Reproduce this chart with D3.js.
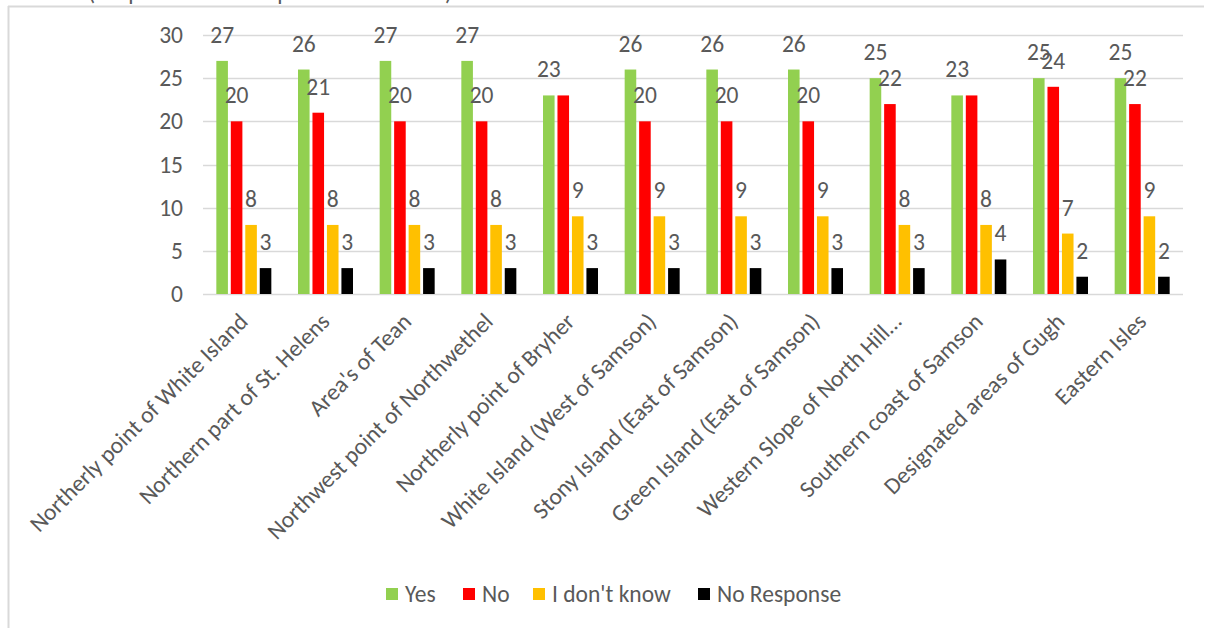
<!DOCTYPE html>
<html>
<head>
<meta charset="utf-8">
<script src="https://cdn.jsdelivr.net/npm/d3@7"></script>
<style>
  html, body { margin: 0; padding: 0; background: #fff; }
  svg { display: block; }
  text { font-family: Carlito, Lato, "Open Sans", sans-serif; fill: #595959; }
</style>
</head>
<body>
<svg id="chart" width="1209" height="628"></svg>
<script>
const categories = [
  "Northerly point of White Island",
  "Northern part of St. Helens",
  "Area's of Tean",
  "Northwest point of Northwethel",
  "Northerly point of Bryher",
  "White Island (West of Samson)",
  "Stony Island (East of Samson)",
  "Green Island (East of Samson)",
  "Western Slope of North Hill\u2026",
  "Southern coast of Samson",
  "Designated areas of Gugh",
  "Eastern Isles"
];
const seriesNames = ["Yes", "No", "I don't know", "No Response"];
const yesValues = [27, 26, 27, 27, 23, 26, 26, 26, 25, 23, 25, 25];
const noValues = [20, 21, 20, 20, 23, 20, 20, 20, 22, 23, 24, 22];
const dontKnowValues = [8, 8, 8, 8, 9, 9, 9, 9, 8, 8, 7, 9];
const noResponseValues = [3, 3, 3, 3, 3, 3, 3, 3, 3, 4, 2, 2];
const yTicks = [0, 5, 10, 15, 20, 25, 30];
const subtitle = "(Respondents were permitted to vote)";

const seriesValues = [yesValues, noValues, dontKnowValues, noResponseValues];
const colors = ["#92d050", "#ff0000", "#ffc000", "#000000"];

const svg = d3.select("#chart");
const W = 1209, H = 628;
const plot = { left: 203, right: 1183, top: 35, bottom: 294 };
const FS = 23.5;
const FF = "Carlito, Lato, 'Open Sans', sans-serif";

// subtitle cut off by the top of the frame: only descenders show
svg.append("clipPath").attr("id", "topclip")
  .append("rect").attr("x", 0).attr("y", 0).attr("width", W).attr("height", 6);
svg.append("text")
  .attr("clip-path", "url(#topclip)")
  .attr("x", 88).attr("y", 0)
  .style("font-size", FS + "px")
  .text(subtitle);

// frame
svg.append("line").attr("x1", 8).attr("x2", 1204).attr("y1", 6.5).attr("y2", 6.5)
  .attr("stroke", "#d9d9d9").attr("stroke-width", 2);
svg.append("line").attr("x1", 8.5).attr("x2", 8.5).attr("y1", 6).attr("y2", H)
  .attr("stroke", "#d9d9d9").attr("stroke-width", 2);

const x = d3.scaleBand().domain(categories).range([plot.left, plot.right]).padding(0);
const groupW = 55;
const xs = d3.scaleBand().domain(seriesNames).range([0, groupW]).paddingInner(0.2).paddingOuter(0);
const y = d3.scaleLinear().domain([0, 30]).range([plot.bottom, plot.top]);

// gridlines
svg.append("g").selectAll("line").data(yTicks).join("line")
  .attr("x1", plot.left).attr("x2", plot.right)
  .attr("y1", d => Math.round(y(d)) + 0.5).attr("y2", d => Math.round(y(d)) + 0.5)
  .attr("stroke", "#d9d9d9").attr("stroke-width", 1.3);

// y axis labels
const yAxis = d3.axisLeft(y).tickValues(yTicks).tickSize(0).tickPadding(0);
const yg = svg.append("g").attr("transform", `translate(${plot.left - 20},0)`).call(yAxis);
yg.select(".domain").remove();
yg.selectAll("text").style("font-size", FS + "px").attr("fill", "#595959")
  .style("font-family", FF);

// bars
const groups = svg.append("g").selectAll("g").data(categories).join("g")
  .attr("transform", d => `translate(${x(d) + (x.bandwidth() - groupW) / 2},0)`);

groups.each(function (cat, ci) {
  const g = d3.select(this);
  seriesNames.forEach((s, si) => {
    const v = seriesValues[si][ci];
    g.append("rect")
      .attr("x", xs(s)).attr("width", xs.bandwidth())
      .attr("y", y(v)).attr("height", y(0) - y(v))
      .attr("fill", colors[si]);
  });
});
// data labels (a label that would collide with an equal neighbour's label is hidden, as in the source)
groups.each(function (cat, ci) {
  const g = d3.select(this);
  seriesNames.forEach((s, si) => {
    const v = seriesValues[si][ci];
    if (si > 0 && seriesValues[si - 1][ci] === v) return;
    g.append("text")
      .attr("x", xs(s) + xs.bandwidth() / 2)
      .attr("y", y(v) - 18)
      .attr("text-anchor", "middle")
      .style("font-size", FS + "px")
      .text(v);
  });
});

// x axis labels
const xAxis = d3.axisBottom(x).tickSize(0).tickPadding(0);
const xg = svg.append("g").attr("transform", `translate(0,${plot.bottom})`).call(xAxis);
xg.select(".domain").remove();
xg.selectAll(".tick text")
  .attr("y", 0).attr("dy", 0)
  .attr("text-anchor", "end")
  .attr("transform", "translate(5.5,29) rotate(-45)")
  .attr("fill", "#595959")
  .style("font-size", FS + "px")
  .style("font-family", FF);

// legend
const legendX = [386, 463, 533, 698];
const legend = svg.append("g").selectAll("g").data(seriesNames).join("g")
  .attr("transform", (d, i) => `translate(${legendX[i]},594)`);
legend.append("rect").attr("x", 0).attr("y", -6).attr("width", 12).attr("height", 12)
  .attr("fill", (d, i) => colors[i]);
legend.append("text").attr("x", 19).attr("y", 0).attr("dy", "0.35em")
  .style("font-size", FS + "px").text(d => d);
</script>
</body>
</html>
